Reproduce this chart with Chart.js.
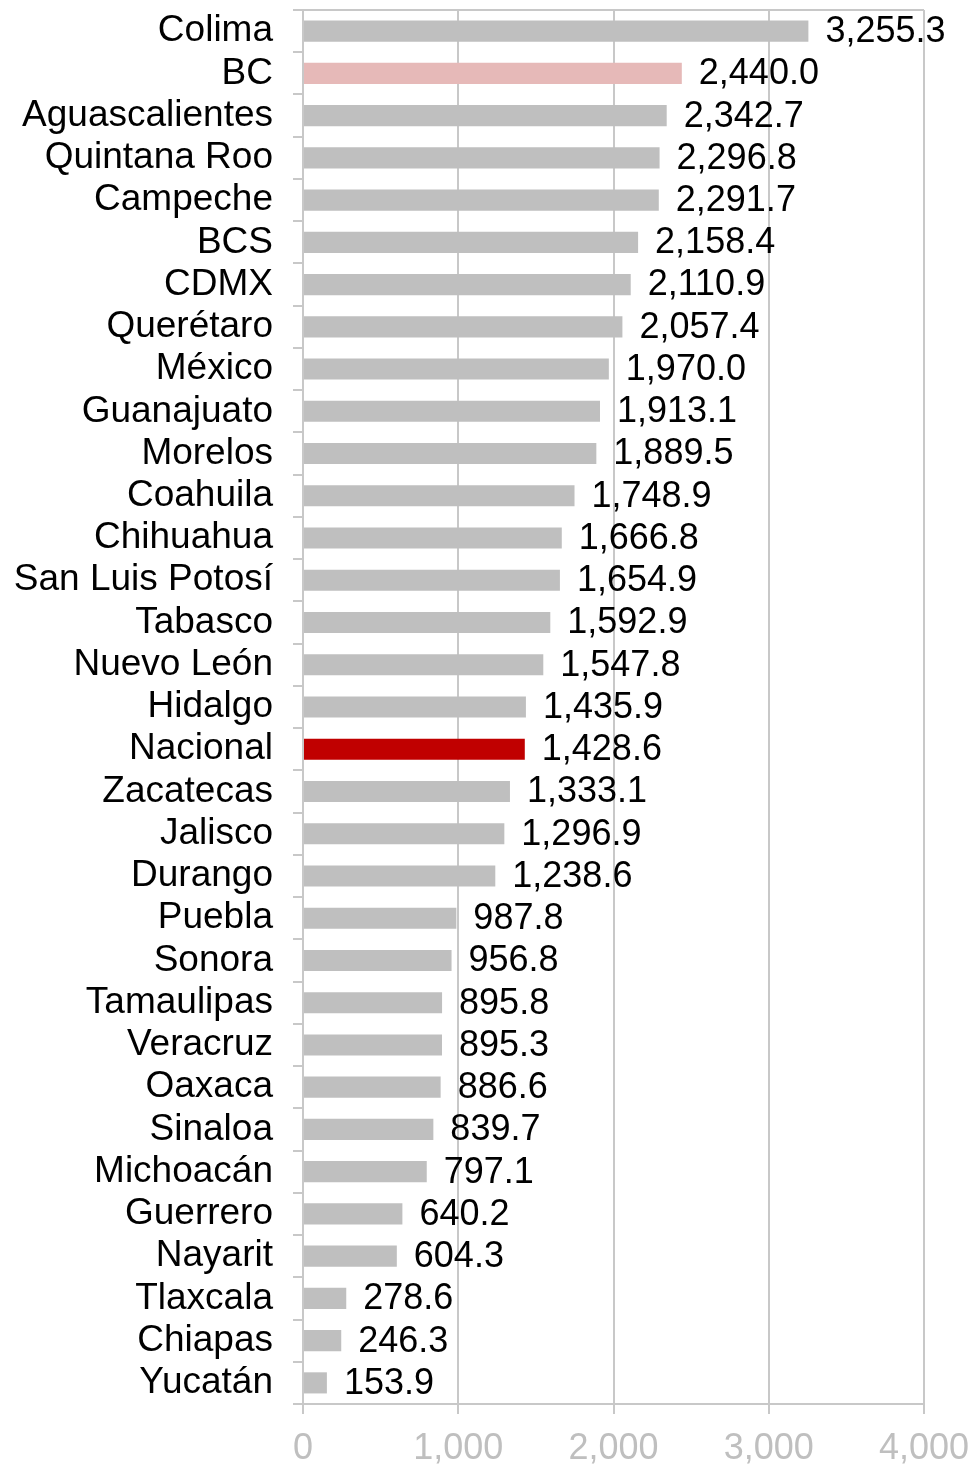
<!DOCTYPE html>
<html>
<head>
<meta charset="utf-8">
<script src="https://cdn.jsdelivr.net/npm/chart.js@4"></script>
<style>
  html, body { margin: 0; padding: 0; background: #fff; }
  #wrap { width: 974px; height: 1468px; position: relative; }
</style>
</head>
<body>
<div id="wrap"><canvas id="barChart"></canvas></div>
<script>
const states = ['Colima', 'BC', 'Aguascalientes', 'Quintana Roo', 'Campeche', 'BCS', 'CDMX',
  'Querétaro', 'México', 'Guanajuato', 'Morelos', 'Coahuila', 'Chihuahua', 'San Luis Potosí',
  'Tabasco', 'Nuevo León', 'Hidalgo', 'Nacional', 'Zacatecas', 'Jalisco', 'Durango', 'Puebla',
  'Sonora', 'Tamaulipas', 'Veracruz', 'Oaxaca', 'Sinaloa', 'Michoacán', 'Guerrero', 'Nayarit',
  'Tlaxcala', 'Chiapas', 'Yucatán'];
const values = [3255.3, 2440.0, 2342.7, 2296.8, 2291.7, 2158.4, 2110.9, 2057.4, 1970.0, 1913.1,
  1889.5, 1748.9, 1666.8, 1654.9, 1592.9, 1547.8, 1435.9, 1428.6, 1333.1, 1296.9, 1238.6, 987.8,
  956.8, 895.8, 895.3, 886.6, 839.7, 797.1, 640.2, 604.3, 278.6, 246.3, 153.9];
const xTicks = [0, 1000, 2000, 3000, 4000];

const grey = '#bfbfbf';
const lineGrey = '#c8c8c8';
const barColors = states.map(s => s === 'BC' ? '#e6b9b8' : (s === 'Nacional' ? '#c00000' : grey));
const fontFamily = '"Liberation Sans", Arial, sans-serif';

const fmt = v => v.toLocaleString('en-US', { minimumFractionDigits: 1, maximumFractionDigits: 1 });

// value labels at the end of each bar
const valueLabels = {
  id: 'valueLabels',
  afterDatasetsDraw(chart) {
    const ctx = chart.ctx;
    const meta = chart.getDatasetMeta(0);
    ctx.save();
    ctx.font = '36px ' + fontFamily;
    ctx.fillStyle = '#000';
    ctx.textAlign = 'left';
    ctx.textBaseline = 'middle';
    meta.data.forEach((bar, i) => {
      ctx.fillText(fmt(values[i]), bar.x + 17, bar.y + 1);
    });
    ctx.restore();
  }
};

// top edge of the plot box
const plotBox = {
  id: 'plotBox',
  beforeDatasetsDraw(chart) {
    const a = chart.chartArea;
    const ctx = chart.ctx;
    ctx.save();
    ctx.strokeStyle = lineGrey;
    ctx.lineWidth = 2;
    ctx.beginPath();
    ctx.moveTo(a.left - 10, a.top);
    ctx.lineTo(a.right, a.top);
    ctx.stroke();
    ctx.restore();
  }
};

new Chart(document.getElementById('barChart').getContext('2d'), {
  type: 'bar',
  data: {
    labels: states,
    datasets: [{
      data: values,
      backgroundColor: barColors,
      borderWidth: 0,
      barPercentage: 0.5,
      categoryPercentage: 1.0
    }]
  },
  options: {
    indexAxis: 'y',
    responsive: true,
    maintainAspectRatio: false,
    animation: false,
    layout: { padding: { top: 10, right: 50, left: 0, bottom: 0 } },
    plugins: {
      legend: { display: false },
      tooltip: { enabled: false }
    },
    scales: {
      x: {
        min: 0,
        max: 4000,
        afterBuildTicks: scale => { scale.ticks = xTicks.map(v => ({ value: v })); },
        afterFit: scale => {
          scale.height = 64;
          scale.paddingLeft = 0;
          scale.paddingRight = 0;
        },
        ticks: {
          color: grey,
          font: { family: fontFamily, size: 36 },
          padding: 13,
          maxRotation: 0,
          callback: v => v.toLocaleString('en-US')
        },
        grid: { color: lineGrey, lineWidth: 2, tickLength: 10 },
        border: { display: true, color: lineGrey, width: 2 }
      },
      y: {
        afterFit: scale => {
          scale.width = 303;
          scale.paddingTop = 0;
          scale.paddingBottom = 0;
        },
        ticks: {
          color: '#000',
          font: { family: fontFamily, size: 37 },
          padding: 20,
          autoSkip: false
        },
        grid: { offset: true, drawOnChartArea: false, color: lineGrey, lineWidth: 2, tickLength: 10 },
        border: { display: true, color: lineGrey, width: 2 }
      }
    }
  },
  plugins: [plotBox, valueLabels]
});
</script>
</body>
</html>
